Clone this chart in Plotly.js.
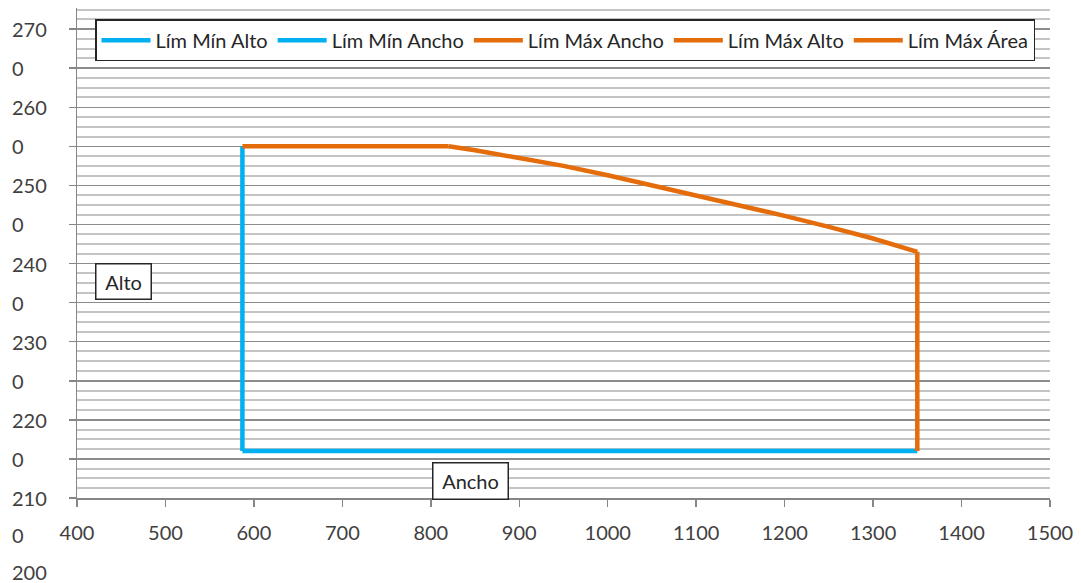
<!DOCTYPE html>
<html>
<head>
<meta charset="utf-8">
<script src="https://cdn.plot.ly/plotly-3.0.1.min.js"></script>
<style>
  html, body { margin: 0; padding: 0; background: #ffffff; }
  #chart { width: 1081px; height: 583px; }
</style>
</head>
<body>
<div id="chart"></div>
<script>
// ---- Data ----
const seriesNames = ["Lím Mín Alto", "Lím Mín Ancho", "Lím Máx Ancho", "Lím Máx Alto", "Lím Máx Área"];

// Lím Mín Alto: minimum height (horizontal)
const minAltoX = [587, 1350];
const minAltoY = [2160, 2160];

// Lím Mín Ancho: minimum width (vertical)
const minAnchoX = [587, 587];
const minAnchoY = [2160, 2550];

// Lím Máx Ancho: maximum width (vertical)
const maxAnchoX = [1350, 1350];
const maxAnchoY = [2160, 2415];

// Lím Máx Alto: maximum height (horizontal)
const maxAltoX = [587, 820];
const maxAltoY = [2550, 2550];

// Lím Máx Área: maximum area curve
const maxAreaX = [820, 850, 900, 950, 1000, 1050, 1100, 1150, 1200, 1250, 1300, 1350];
const maxAreaY = [2550, 2545, 2535, 2525, 2513, 2500, 2488, 2475, 2461, 2447, 2432, 2415];

// Axis ticks / labels
const xRange = [400, 1500];
const yRange = [2100, 2727];
const xTickVals = [400, 500, 600, 700, 800, 900, 1000, 1100, 1200, 1300, 1400, 1500];
const yLabelVals = [2700, 2650, 2600, 2550, 2500, 2450, 2400, 2350, 2300, 2250, 2200, 2150, 2100, 2050, 2000];
const yLabelTexts = ["270", "0", "260", "0", "250", "0", "240", "0", "230", "0", "220", "0", "210", "0", "200"];

const axisTitleX = "Ancho";
const axisTitleY = "Alto";

// ---- Styles ----
const BLUE = "#00B0F0";
const ORANGE = "#E46C0A";
const FONT = "Lato, 'Noto Sans', sans-serif";
const TEXT = "#404040";

const seriesX = [minAltoX, minAnchoX, maxAnchoX, maxAltoX, maxAreaX];
const seriesY = [minAltoY, minAnchoY, maxAnchoY, maxAltoY, maxAreaY];
const seriesColors = [BLUE, BLUE, ORANGE, ORANGE, ORANGE];

const traces = seriesNames.map((name, i) => ({
  type: "scatter",
  mode: "lines",
  name: name,
  x: seriesX[i],
  y: seriesY[i],
  line: { color: seriesColors[i], width: 4.5 },
  hoverinfo: "skip"
}));

// y tick labels (left aligned, wrapped as in the reference); some sit below the plot area
const annotations = yLabelVals.map((v, i) => ({
  xref: "paper", yref: "paper",
  x: -0.069, y: (v - yRange[0]) / (yRange[1] - yRange[0]),
  xanchor: "left", yanchor: "middle",
  yshift: v < yRange[0] ? (yRange[0] - v) / 50 * 2.2 : 0,
  text: yLabelTexts[i],
  showarrow: false,
  font: { family: FONT, size: 20, color: TEXT }
}));

annotations.push({
  xref: "x", yref: "y",
  x: 452.5, y: 2377,
  text: axisTitleY,
  showarrow: false,
  font: { family: FONT, size: 20, color: "#262626" },
  bgcolor: "#ffffff",
  bordercolor: "#262626",
  borderwidth: 1.5,
  borderpad: 3,
  width: 48,
  height: 28
});
annotations.push({
  xref: "x", yref: "y",
  x: 845, y: 2122,
  text: axisTitleX,
  showarrow: false,
  font: { family: FONT, size: 20, color: "#262626" },
  bgcolor: "#ffffff",
  bordercolor: "#262626",
  borderwidth: 1.5,
  borderpad: 3,
  width: 68,
  height: 29
});

const layout = {
  width: 1081,
  height: 583,
  margin: { l: 77, r: 31, t: 8, b: 85, pad: 0 },
  paper_bgcolor: "#ffffff",
  plot_bgcolor: "#ffffff",
  font: { family: FONT, size: 20, color: TEXT },
  showlegend: true,
  legend: {
    orientation: "h",
    x: 0.0185, y: 0.977,
    xanchor: "left", yanchor: "top",
    bgcolor: "#ffffff",
    bordercolor: "#262626",
    borderwidth: 1.5,
    itemwidth: 49,
    font: { family: FONT, size: 20, color: "#262626" }
  },
  xaxis: {
    range: xRange,
    tickvals: xTickVals,
    showgrid: false,
    zeroline: false,
    showline: true,
    linecolor: "#868686",
    linewidth: 1.5,
    ticks: "outside",
    ticklen: 7,
    tickwidth: 1.5,
    tickcolor: "#868686",
    ticklabelstandoff: 9,
    tickfont: { family: FONT, size: 20, color: TEXT },
    fixedrange: true
  },
  yaxis: {
    range: yRange,
    dtick: 50,
    tick0: 2100,
    showticklabels: false,
    showgrid: true,
    gridcolor: "#8C8C8C",
    gridwidth: 1.5,
    zeroline: false,
    showline: true,
    linecolor: "#868686",
    linewidth: 1.5,
    ticks: "outside",
    ticklen: 7,
    tickwidth: 1.5,
    tickcolor: "#868686",
    minor: {
      dtick: 12.5,
      tick0: 2100,
      showgrid: true,
      gridcolor: "#C4C4C4",
      gridwidth: 2,
      ticks: ""
    },
    fixedrange: true
  },
  annotations: annotations
};

Plotly.newPlot("chart", traces, layout, { displayModeBar: false, staticPlot: true });
</script>
</body>
</html>
